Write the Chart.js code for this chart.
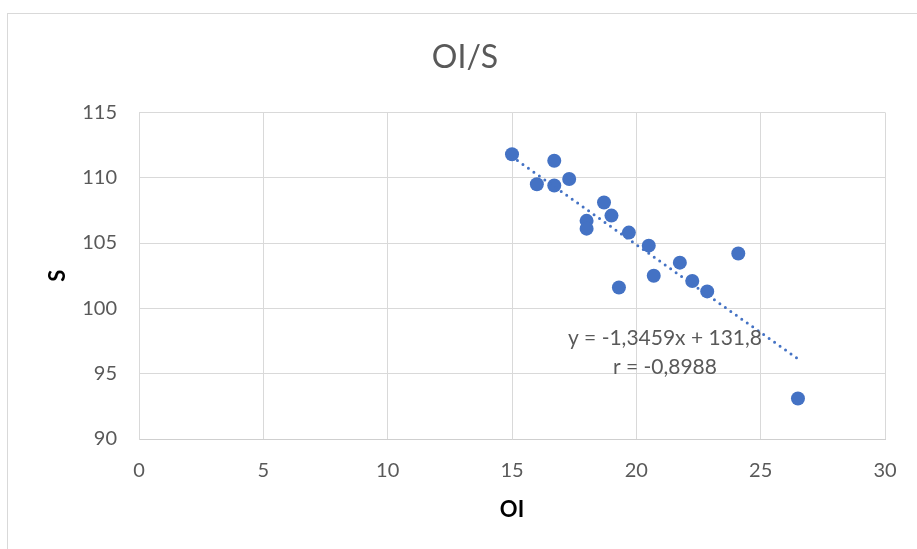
<!DOCTYPE html>
<html>
<head>
<meta charset="utf-8">
<script src="https://cdn.jsdelivr.net/npm/chart.js@4"></script>
<style>
    html, body { margin: 0; padding: 0; background: #fff; overflow: hidden; }
    #frame { position: absolute; left: 7px; top: 13px; width: 1000px; height: 1000px; border: 1px solid #d9d9d9; }
    #chart { position: absolute; left: 0; top: 0; }
</style>
</head>
<body>
<div id="frame"></div>
<canvas id="chart" width="917" height="549"></canvas>
<script>
// values
const oiValues = [15.0, 16.7, 16.0, 16.7, 17.3, 18.7, 19.0, 18.0, 18.0, 19.7, 20.5, 21.75, 20.7, 22.25, 22.85, 19.3, 24.1, 26.5];
const sValues = [111.8, 111.3, 109.5, 109.4, 109.9, 108.1, 107.1, 106.7, 106.1, 105.8, 104.8, 103.5, 102.5, 102.1, 101.3, 101.6, 104.2, 93.1];

// trendline as printed on the chart
const trendSlope = -1.3459;
const trendIntercept = 131.8;
const trendLabel = ['y = -1,3459x + 131,8', 'r = -0,8988'];

const xTicks = [0, 5, 10, 15, 20, 25, 30];
const yTicks = [90, 95, 100, 105, 110, 115];

const blue = '#4472C4';
const grey = '#595959';
const gridGrey = '#d9d9d9';

const points = oiValues.map((x, i) => ({ x: x, y: sValues[i] }));
const xMin = Math.min(...oiValues);
const xMax = Math.max(...oiValues);
const trendPoints = [xMin, xMax].map(x => ({ x: x, y: trendSlope * x + trendIntercept }));

const trendLabelPlugin = {
    id: 'trendLabel',
    afterDatasetsDraw(chart) {
        const ctx = chart.ctx;
        const x = chart.scales.x.getPixelForValue(21.15);
        const y = chart.scales.y.getPixelForValue(97.72);
        ctx.save();
        ctx.font = '21px Lato';
        ctx.fillStyle = grey;
        ctx.textAlign = 'center';
        ctx.textBaseline = 'middle';
        trendLabel.forEach((line, i) => ctx.fillText(line, x, y + i * 29));
        ctx.restore();
    }
};

new Chart(document.getElementById('chart'), {
    type: 'scatter',
    data: {
        datasets: [
            {
                label: 'Trend',
                data: trendPoints,
                showLine: true,
                borderColor: blue,
                borderWidth: 3,
                borderDash: [0, 6.7],
                borderCapStyle: 'round',
                pointRadius: 0,
                order: 0
            },
            {
                label: 'S',
                data: points,
                backgroundColor: blue,
                borderColor: blue,
                borderWidth: 0,
                pointRadius: 7,
                order: 1
            }
        ]
    },
    options: {
        responsive: false,
        devicePixelRatio: 1,
        animation: false,
        layout: {
            padding: { left: 45, right: 32, top: 0, bottom: 0 }
        },
        plugins: {
            legend: { display: false },
            tooltip: { enabled: false },
            title: {
                display: true,
                text: 'OI/S',
                color: grey,
                font: { family: 'Lato', size: 32, weight: 'normal' },
                padding: { top: 38, bottom: 36 }
            }
        },
        scales: {
            x: {
                type: 'linear',
                min: 0,
                max: 30,
                afterBuildTicks: scale => { scale.ticks = xTicks.map(v => ({ value: v })); },
                afterFit: scale => { scale.height = 110; },
                grid: { color: gridGrey, drawTicks: false },
                border: { color: '#cfcfcf' },
                ticks: { color: grey, padding: 20, font: { family: 'Lato', size: 20 } },
                title: {
                    display: true,
                    text: 'OI',
                    color: '#000',
                    font: { family: 'Lato', size: 22, weight: 'bold' },
                    padding: { top: 0, bottom: 26 }
                }
            },
            y: {
                type: 'linear',
                min: 90,
                max: 115,
                afterBuildTicks: scale => { scale.ticks = yTicks.map(v => ({ value: v })); },
                afterFit: scale => { scale.width = 94; },
                grid: { color: gridGrey, drawTicks: false },
                border: { color: gridGrey },
                ticks: { color: grey, padding: 22, font: { family: 'Lato', size: 20 } },
                title: {
                    display: true,
                    text: 'S',
                    color: '#000',
                    font: { family: 'Lato', size: 22, weight: 'bold' },
                    padding: { top: 0, bottom: 0 }
                }
            }
        }
    },
    plugins: [trendLabelPlugin]
});
</script>
</body>
</html>
